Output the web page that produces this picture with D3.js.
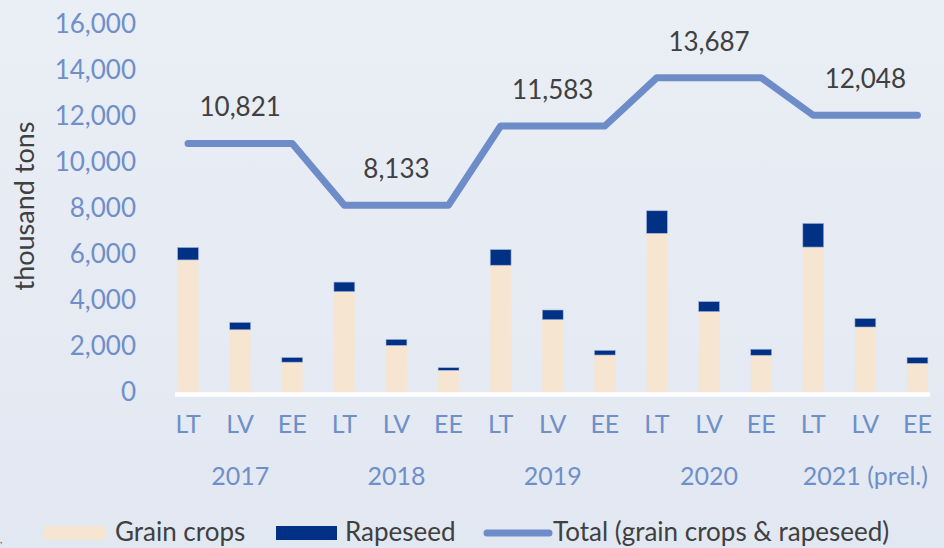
<!DOCTYPE html>
<html>
<head>
<meta charset="utf-8">
<script src="https://cdn.jsdelivr.net/npm/d3@7"></script>
<style>
  html, body { margin: 0; padding: 0; }
  svg { display: block; font-family: Lato, "Open Sans", sans-serif; }
</style>
</head>
<body>
<svg id="chart" width="944" height="548"></svg>
<script>
// données (milliers de tonnes)
var years = ["2017", "2018", "2019", "2020", "2021"];
var yearLabels = ["2017", "2018", "2019", "2020", "2021 (prel.)"];
var countries = ["LT", "LV", "EE"];
var grain = [5750, 2710, 1300, 4370, 2030, 945, 5520, 3150, 1610, 6910, 3500, 1600, 6310, 2830, 1250];
var rapeseed = [540, 320, 200, 415, 260, 113, 680, 420, 203, 980, 435, 262, 1030, 370, 258];
var totals = [10821, 8133, 11583, 13687, 12048];
var yTicks = [0, 2000, 4000, 6000, 8000, 10000, 12000, 14000, 16000];

var svg = d3.select("#chart");
var W = 944, H = 548;

var tickColor = "#6f8fc9";
var textColor = "#404040";
var grainColor = "#f5e5d1";
var rapeColor = "#003185";
var lineColor = "#6e8dc8";

// fond
var grad = svg.append("defs").append("linearGradient")
  .attr("id", "bg").attr("x1", 0).attr("y1", 0).attr("x2", 0).attr("y2", 1);
grad.append("stop").attr("offset", "0%").attr("stop-color", "#eaeef5");
grad.append("stop").attr("offset", "100%").attr("stop-color", "#e2e8f2");
svg.append("rect").attr("width", W).attr("height", H).attr("fill", "url(#bg)");

// lignes de données
var rows = [];
years.forEach(function(yr, i) {
  countries.forEach(function(c, j) {
    var k = i * 3 + j;
    rows.push({ key: yr + "-" + c, year: yr, country: c, grain: grain[k], rape: rapeseed[k], total: totals[i] });
  });
});

var x = d3.scaleBand().domain(rows.map(function(d) { return d.key; }))
  .range([162, 943.5]).paddingInner(0.6).paddingOuter(0.3);
var y = d3.scaleLinear().domain([0, 16000]).range([392, 24.5]);

// axe Y
var yAxis = svg.append("g")
  .attr("transform", "translate(136,0)")
  .call(d3.axisLeft(y).tickValues(yTicks).tickFormat(d3.format(",")).tickSize(0).tickPadding(0));
yAxis.select(".domain").remove();
yAxis.selectAll("text")
  .attr("fill", tickColor)
  .style("font-size", "26px")
  .style("font-family", "Lato, sans-serif");

svg.append("text")
  .attr("transform", "translate(34,206) rotate(-90)")
  .attr("text-anchor", "middle")
  .attr("fill", textColor)
  .style("font-size", "27px")
  .text("thousand tons");

// barres empilées
var barG = svg.append("g");
barG.selectAll("rect.grain").data(rows).enter().append("rect")
  .attr("class", "grain")
  .attr("x", function(d) { return x(d.key); })
  .attr("width", x.bandwidth())
  .attr("y", function(d) { return y(d.grain); })
  .attr("height", function(d) { return y(0) - y(d.grain); })
  .attr("fill", grainColor);
barG.selectAll("rect.rape").data(rows).enter().append("rect")
  .attr("class", "rape")
  .attr("x", function(d) { return x(d.key); })
  .attr("width", x.bandwidth())
  .attr("y", function(d) { return y(d.grain + d.rape); })
  .attr("height", function(d) { return y(d.grain) - y(d.grain + d.rape); })
  .attr("fill", rapeColor)
  .attr("stroke", "#9fb2da")
  .attr("stroke-width", 0.6);

// ligne de base
svg.append("line")
  .attr("x1", 175).attr("x2", 930)
  .attr("y1", y(0) + 2.5).attr("y2", y(0) + 2.5)
  .attr("stroke", "#ffffff").attr("stroke-width", 4.5);

// axe X (pays)
var xAxis = svg.append("g")
  .attr("transform", "translate(0," + y(0) + ")")
  .call(d3.axisBottom(x).tickSize(0).tickPadding(23)
    .tickFormat(function(k) { return k.split("-")[1]; }));
xAxis.select(".domain").remove();
xAxis.selectAll("text")
  .attr("fill", tickColor)
  .style("font-size", "25px")
  .style("font-family", "Lato, sans-serif");

// années
svg.append("g").selectAll("text").data(years).enter().append("text")
  .attr("x", function(d) { return x(d + "-LV") + x.bandwidth() / 2; })
  .attr("y", 485)
  .attr("text-anchor", "middle")
  .attr("fill", tickColor)
  .style("font-size", "25px")
  .text(function(d, i) { return yearLabels[i]; });

// ligne du total
var line = d3.line()
  .x(function(d) { return x(d.key) + x.bandwidth() / 2; })
  .y(function(d) { return y(d.total); });
svg.append("path")
  .datum(rows)
  .attr("d", line)
  .attr("fill", "none")
  .attr("stroke", lineColor)
  .attr("stroke-width", 7)
  .attr("stroke-linecap", "round")
  .attr("stroke-linejoin", "round");

// étiquettes des totaux
svg.append("g").selectAll("text").data(years).enter().append("text")
  .attr("x", function(d) { return x(d + "-LV") + x.bandwidth() / 2; })
  .attr("y", function(d, i) { return y(totals[i]) - 27; })
  .attr("text-anchor", "middle")
  .attr("fill", textColor)
  .style("font-size", "26px")
  .text(function(d, i) { return d3.format(",")(totals[i]); });

// légende
var leg = svg.append("g");
leg.append("rect").attr("x", 44).attr("y", 526).attr("width", 61).attr("height", 14).attr("fill", grainColor);
leg.append("text").attr("x", 115).attr("y", 541).attr("fill", textColor).style("font-size", "26px").text("Grain crops");
leg.append("rect").attr("x", 276).attr("y", 526).attr("width", 61).attr("height", 14).attr("fill", rapeColor);
leg.append("text").attr("x", 345).attr("y", 541).attr("fill", textColor).style("font-size", "26px").text("Rapeseed");
leg.append("line").attr("x1", 487).attr("x2", 549).attr("y1", 533).attr("y2", 533)
  .attr("stroke", lineColor).attr("stroke-width", 7).attr("stroke-linecap", "round");
leg.append("text").attr("x", 553).attr("y", 541).attr("fill", textColor).style("font-size", "26px")
  .text("Total (grain crops & rapeseed)");

svg.append("text").attr("x", 0).attr("y", 543).attr("fill", "#555").style("font-size", "10px").text(",");
</script>
</body>
</html>
